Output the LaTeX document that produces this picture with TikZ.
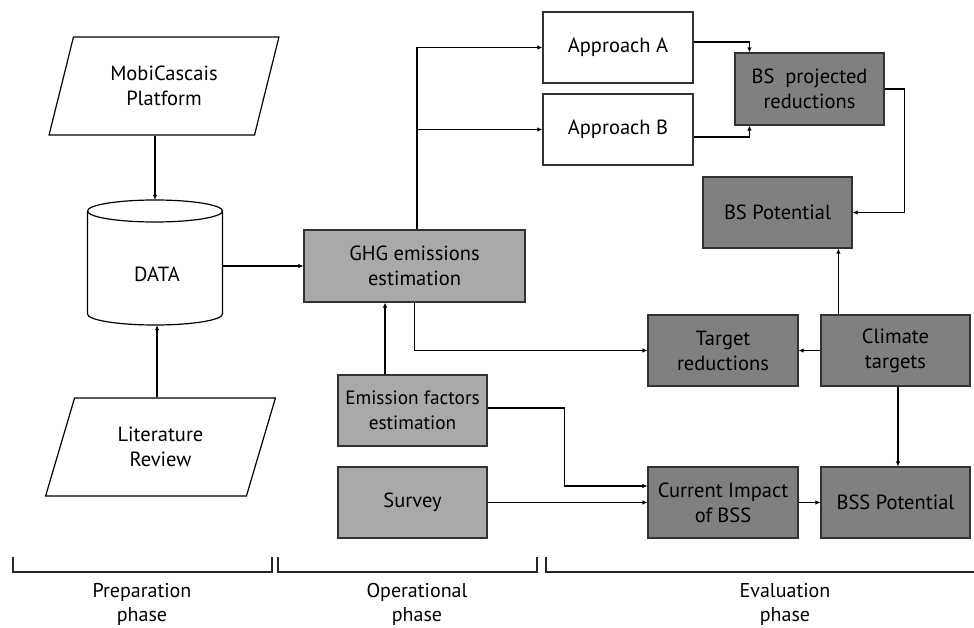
\documentclass[tikz,border=0pt]{standalone}
\usepackage{fontspec}
\setmainfont{PT Sans}
\usetikzlibrary{shapes.geometric,arrows.meta}
\definecolor{lightg}{RGB}{168,169,168}
\definecolor{darkg}{RGB}{128,128,128}
\definecolor{edge}{RGB}{50,50,50}
\tikzset{
  every node/.style={font=\fontsize{20.5}{25}\selectfont, text=black, align=center},
  box/.style={draw=edge, line width=1.2pt, minimum width=150pt, minimum height=71pt, inner sep=1pt},
  whitebox/.style={box, fill=white},
  lightbox/.style={box, fill=lightg},
  darkbox/.style={box, fill=darkg},
  para/.style={trapezium, draw=black, line width=1.2pt, trapezium left angle=70, trapezium right angle=110,
     trapezium stretches=true, minimum width=230pt, minimum height=98pt, inner sep=0pt},
  conn/.style={line width=1.2pt, -{Latex[length=5pt,width=4.5pt]}},
  bracket/.style={line width=1.2pt, draw=black!85},
  phase/.style={font=\fontsize{20}{24}\selectfont}
}
\begin{document}
\begin{tikzpicture}[x=1pt,y=-1pt]
\useasboundingbox (0,0) rectangle (974,628);
% preparation
\node[para] (mobi) at (164,86) {MobiCascais\\Platform};
\node[para] (lit) at (160.5,447) {Literature\\Review};
\node[minimum width=135pt, minimum height=125pt, inner sep=0pt] (data) at (155,262.5) {};
\draw[line width=1.2pt, fill=white] (87.5,211) -- (87.5,314) arc[start angle=180, end angle=360, x radius=67.5pt, y radius=11pt] -- (222.5,211);
\draw[line width=1.2pt, fill=white] (155,211) ellipse [x radius=67.5pt, y radius=11pt];
\node (datatxt) at (157,274) {DATA};
% operational
\node[lightbox, minimum width=221pt, minimum height=72pt] (ghg) at (414.5,266) {GHG emissions\\estimation};
\node[lightbox, minimum width=149pt, font=\fontsize{19.3}{25}\selectfont] (emis) at (412.5,410.5) {Emission factors\\estimation};
\node[lightbox, minimum width=149pt] (survey) at (412.5,502.5) {Survey};
% evaluation
\node[whitebox] (appA) at (618,47.5) {Approach A};
\node[whitebox] (appB) at (618,129.5) {Approach B};
\node[darkbox, minimum width=149pt, minimum height=72pt] (bsproj) at (809.5,89) {BS\ \ projected\\reductions};
\node[darkbox, minimum width=149pt] (bspot) at (777.5,212.5) {BS Potential};
\node[darkbox] (target) at (723,350.5) {Target\\reductions};
\node[darkbox, minimum width=149pt] (climate) at (895.5,350.5) {Climate\\targets};
\node[darkbox] (current) at (723,502.5) {Current Impact\\of BSS};
\node[darkbox, minimum width=149pt] (bss) at (895.5,502.5) {BSS Potential};
% connectors
\draw[conn] (data.north |- mobi.south) -- (data.north);
\draw[conn] ([xshift=2pt]data.south |- lit.north) -- ([xshift=2pt]data.south);
\draw[conn] (data.east |- ghg.west) -- (ghg.west);
\draw[conn] ([xshift=2.5pt]ghg.north) |- (appA.west);
\draw[conn] ([xshift=2.5pt]ghg.north) |- (appB.west);
\draw[conn] ([yshift=5.5pt]appA.east) -| ([xshift=15pt]bsproj.north west);
\draw[conn] ([yshift=-7.5pt]appB.east) -| ([xshift=15pt]bsproj.south west);
\draw[conn] (bsproj.east) -- ++(20,0) |- (bspot.east);
\draw[conn] ([xshift=18pt]climate.north west) -- ([xshift=18pt]climate.north west |- bspot.south);
\draw[conn] (climate.west) -- (target.east);
\draw[conn] (ghg.south) |- (target.west);
\draw[conn] ([xshift=-27.5pt]emis.north) -- ([xshift=-27.5pt]emis.north |- ghg.south);
\draw[conn] ([yshift=2.5pt]emis.east) -- ++(77,0) |- ([yshift=16.5pt]current.west);
\draw[conn] (survey.east) -- (current.west);
\draw[conn] (current.east) -- (bss.west);
\draw[conn] ([xshift=2.5pt]climate.south) -- ([xshift=2.5pt]bss.north);
% phase brackets
\draw[bracket] (13,557) -- (13,572) -- (272,572) -- (272,557);
\draw[bracket] (278,557) -- (278,572) -- (537,572) -- (537,557);
\draw[bracket] (546,557) -- (546,572) -- (974,572);
\node[phase] (prep) at (142,604) {Preparation\\phase};
\node[phase] (oper) at (417,604) {Operational\\phase};
\node[phase] (eval) at (785,604) {Evaluation\\phase};
\end{tikzpicture}
\end{document}
